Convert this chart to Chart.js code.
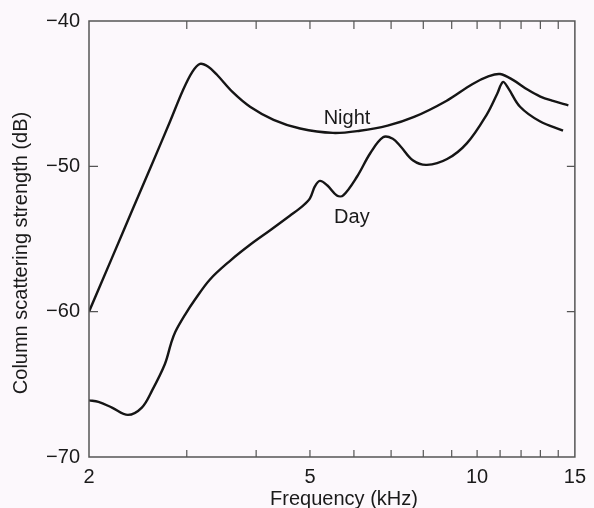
<!DOCTYPE html>
<html>
<head>
<meta charset="utf-8">
<script src="https://cdn.jsdelivr.net/npm/chart.js@4.4.0/dist/chart.umd.min.js"></script>
<style>
    html, body { margin: 0; padding: 0; background: #fcf8fc; }
    #wrap { width: 594px; height: 508px; }
</style>
</head>
<body>
<div id="wrap"><canvas id="grafica" width="594" height="508"></canvas></div>
<script>
// Datos (frecuencia en kHz, nivel en dB)
const nightFreq = [2.0, 2.2, 2.4, 2.6, 2.8, 2.95, 3.07, 3.17, 3.28, 3.4, 3.63, 3.9, 4.3, 4.8, 5.5, 6.15, 6.9, 7.7, 8.8, 9.8, 10.5, 11.0, 11.6, 12.3, 13.0, 13.7, 14.6];
const nightDb = [-60.0, -56.3, -52.9, -49.8, -46.9, -44.8, -43.5, -42.95, -43.15, -43.7, -44.9, -45.9, -46.8, -47.4, -47.7, -47.55, -47.2, -46.6, -45.5, -44.35, -43.8, -43.65, -44.05, -44.7, -45.2, -45.5, -45.8];

const dayFreq = [2.0, 2.08, 2.2, 2.35, 2.49, 2.6, 2.74, 2.81, 2.86, 2.98, 3.1, 3.3, 3.59, 3.9, 4.24, 4.6, 4.86, 5.0, 5.1, 5.21, 5.37, 5.59, 5.74, 6.08, 6.42, 6.77, 7.05, 7.27, 7.67, 8.12, 8.83, 9.59, 10.42, 10.87, 11.13, 11.37, 11.95, 12.97, 14.28];
const dayDb = [-66.1, -66.2, -66.6, -67.1, -66.6, -65.4, -63.6, -62.2, -61.4, -60.2, -59.2, -57.8, -56.5, -55.4, -54.4, -53.4, -52.7, -52.2, -51.4, -51.0, -51.3, -52.0, -52.0, -50.7, -49.1, -48.0, -48.1, -48.6, -49.6, -49.9, -49.5, -48.4, -46.4, -45.0, -44.2, -44.6, -45.9, -46.9, -47.55];

const xTicks = [2, 5, 10, 15];
const xMinorTicks = [3, 4, 6, 7, 8, 9, 11, 12, 13, 14];
const yTicks = [-70, -60, -50, -40];

// Etiquetas de las curvas (posición en unidades de los ejes)
const curveLabels = [
    { text: 'Night', x: 5.83, y: -46.7 },
    { text: 'Day', x: 5.95, y: -53.5 }
];

const FAMILIA = '"Liberation Sans", Arial, sans-serif';
const FUENTE = '20px ' + FAMILIA;
const COLOR_MARCO = '#555';

function toPoints(xs, ys) {
    return xs.map((x, i) => ({ x: x, y: ys[i] }));
}

// Marco, ticks hacia dentro, etiquetas y títulos de ejes
const marcoPlugin = {
    id: 'marco',
    afterDatasetsDraw(chart) {
        const { ctx, chartArea: a, scales } = chart;
        const sx = scales.x, sy = scales.y;
        ctx.save();
        ctx.strokeStyle = COLOR_MARCO;
        ctx.lineWidth = 1.5;
        ctx.strokeRect(a.left, a.top, a.right - a.left, a.bottom - a.top);

        ctx.lineWidth = 1.2;
        ctx.beginPath();
        for (const v of xTicks.concat(xMinorTicks)) {
            if (v <= sx.min || v >= sx.max) continue;
            const px = sx.getPixelForValue(v);
            ctx.moveTo(px, a.bottom);
            ctx.lineTo(px, a.bottom - 7);
            ctx.moveTo(px, a.top);
            ctx.lineTo(px, a.top + 8);
        }
        for (const v of yTicks) {
            if (v <= sy.min || v >= sy.max) continue;
            const py = sy.getPixelForValue(v);
            ctx.moveTo(a.left, py);
            ctx.lineTo(a.left + 9, py);
            ctx.moveTo(a.right, py);
            ctx.lineTo(a.right - 8, py);
        }
        ctx.stroke();

        ctx.fillStyle = '#1a1a1a';
        ctx.font = FUENTE;
        ctx.textAlign = 'center';
        ctx.textBaseline = 'middle';
        for (const l of curveLabels) {
            ctx.fillText(l.text, sx.getPixelForValue(l.x), sy.getPixelForValue(l.y));
        }

        // títulos de los ejes
        ctx.fillText('Frequency (kHz)', 344, 499);
        ctx.translate(21, 253);
        ctx.rotate(-Math.PI / 2);
        ctx.fillText('Column scattering strength (dB)', 0, 0);
        ctx.restore();
    }
};

function initGrafica() {
    const ctx = document.getElementById('grafica').getContext('2d');
    new Chart(ctx, {
        type: 'line',
        data: {
            datasets: [{
                label: 'Night',
                data: toPoints(nightFreq, nightDb),
                borderColor: '#151515',
                borderWidth: 2.4,
                pointRadius: 0,
                tension: 0.35
            }, {
                label: 'Day',
                data: toPoints(dayFreq, dayDb),
                borderColor: '#151515',
                borderWidth: 2.4,
                pointRadius: 0,
                tension: 0.35
            }]
        },
        options: {
            responsive: false,
            animation: false,
            devicePixelRatio: 1,
            layout: { padding: { top: 16, right: 15, bottom: 0, left: 0 } },
            plugins: {
                legend: { display: false },
                tooltip: { enabled: false }
            },
            scales: {
                x: {
                    type: 'logarithmic',
                    min: 2,
                    max: 15,
                    grid: { display: false, drawTicks: false },
                    border: { display: false },
                    afterBuildTicks: s => { s.ticks = xTicks.map(v => ({ value: v })); },
                    afterFit: s => { s.height = 51; },
                    ticks: {
                        autoSkip: false,
                        maxRotation: 0,
                        padding: 8,
                        color: '#1a1a1a',
                        font: { family: FAMILIA, size: 20 },
                        callback: v => String(v)
                    }
                },
                y: {
                    min: -70,
                    max: -40,
                    grid: { display: false, drawTicks: false },
                    border: { display: false },
                    afterBuildTicks: s => { s.ticks = yTicks.map(v => ({ value: v })); },
                    afterFit: s => { s.width = 89; },
                    ticks: {
                        padding: 9,
                        color: '#1a1a1a',
                        font: { family: FAMILIA, size: 20 },
                        callback: v => (v < 0 ? '\u2212' : '') + Math.abs(v)
                    }
                }
            }
        },
        plugins: [marcoPlugin]
    });
}

document.addEventListener('DOMContentLoaded', initGrafica);
</script>
</body>
</html>
